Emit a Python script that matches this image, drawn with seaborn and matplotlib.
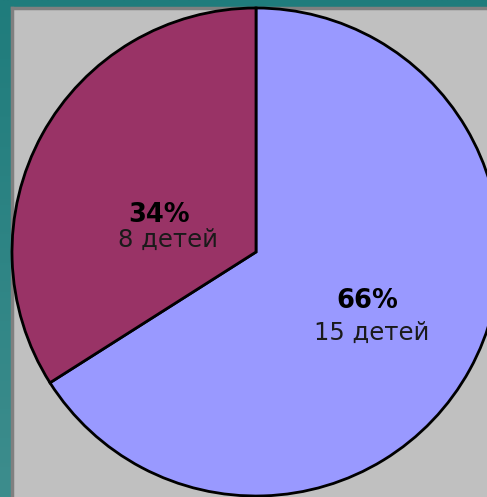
import matplotlib

matplotlib.use("Agg")
import matplotlib.pyplot as plt
import numpy as np
import seaborn as sns

sns.set_style("white")
plt.rcParams["font.family"] = ["DejaVu Sans"]

# data
groups = ["15 детей", "8 детей"]
shares = [66, 34]
pct_labels = ["66%", "34%"]

colors = sns.color_palette(["#9999FF", "#993366"])

W, H = 487, 497
fig = plt.figure(figsize=(W / 100, H / 100), dpi=100)

# teal backdrop with a soft vertical gradient
bg = fig.add_axes([0, 0, 1, 1], zorder=0)
grad = np.linspace(0, 1, 256).reshape(-1, 1)
cmap = matplotlib.colors.LinearSegmentedColormap.from_list("teal", ["#1f7c7c", "#3d8d8d"])
bg.imshow(grad, aspect="auto", cmap=cmap, extent=[0, 1, 0, 1])
bg.set_axis_off()

# grey plot panel
panel = fig.add_axes([12 / W, 0, 1 - 12 / W, 1 - 8 / H], zorder=1)
panel.set_facecolor("#c0c0c0")
panel.set_xticks([])
panel.set_yticks([])
for side in ("right", "bottom"):
    panel.spines[side].set_visible(False)
for side in ("left", "top"):
    panel.spines[side].set_color("#808080")
    panel.spines[side].set_linewidth(2.5)

# pie, centre (256, 252) px, radius 244 px
cx, cy, r = 256, 252, 244
ax = fig.add_axes([(cx - r) / W, (H - cy - r) / H, 2 * r / W, 2 * r / H], zorder=2)
wedges, _ = ax.pie(
    shares, colors=colors, startangle=90, counterclock=False, radius=1,
    wedgeprops=dict(edgecolor="black", linewidth=2.0), frame=False,
)
ax.set_xlim(-1, 1)
ax.set_ylim(-1, 1)
ax.set_axis_off()
for w in wedges:
    w.set_clip_on(False)

pct_pos = [(0.455, -0.202), (-0.397, 0.153)]
cnt_pos = [(0.473, -0.332), (-0.359, 0.048)]
for pct, grp, pp, cp in zip(pct_labels, groups, pct_pos, cnt_pos):
    ax.text(pp[0], pp[1], pct, ha="center", va="center", fontsize=18.5,
            fontweight="bold", color="black")
    ax.text(cp[0], cp[1], grp, ha="center", va="center", fontsize=17.5,
            color="#1a1a1a")

fig.savefig("out.png", dpi=100)
